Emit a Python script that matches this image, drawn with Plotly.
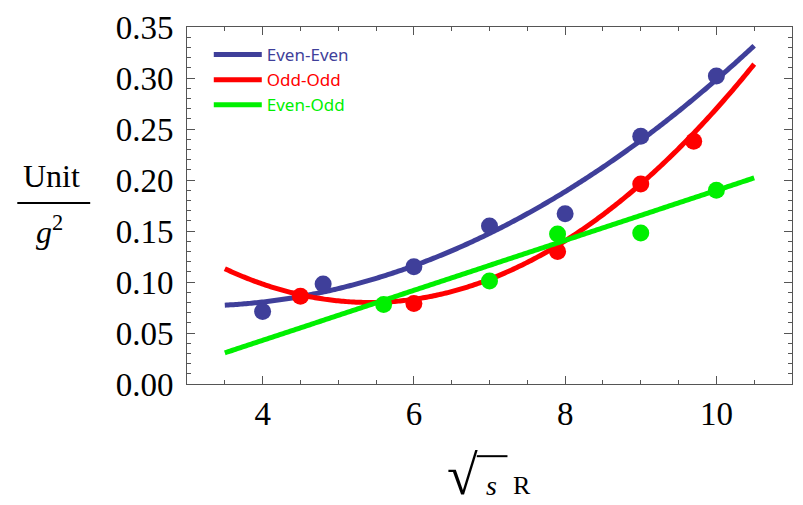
import numpy as np
import plotly.graph_objects as go

# Measured points (sqrt(s) R, Unit/g^2)
x_even_even = [4.0, 4.8, 6.0, 7.0, 8.0, 9.0, 10.0]
y_even_even = [0.071, 0.098, 0.115, 0.155, 0.167, 0.243, 0.302]

x_odd_odd = [4.5, 6.0, 7.9, 9.0, 9.7]
y_odd_odd = [0.086, 0.079, 0.130, 0.196, 0.238]

x_even_odd = [5.6, 7.0, 7.9, 9.0, 10.0]
y_even_odd = [0.078, 0.101, 0.147, 0.148, 0.190]

# Fit polynomials (highest power first) and the range they are drawn over
fit_even_even = [0.004638, -0.028598, 0.12056]
fit_odd_odd = [0.0090301, -0.097773, 0.344609]
fit_even_odd = [0.0245, -0.0552]
fit_range = [3.5, 10.5]

y_ticks = [0.00, 0.05, 0.10, 0.15, 0.20, 0.25, 0.30, 0.35]
x_ticks = [4, 6, 8, 10]

BLUE = "#3f3f9a"
RED = "#ff0000"
GREEN = "#00f000"

series = [
    ("Even-Even", BLUE, x_even_even, y_even_even, fit_even_even),
    ("Odd-Odd", RED, x_odd_odd, y_odd_odd, fit_odd_odd),
    ("Even-Odd", GREEN, x_even_odd, y_even_odd, fit_even_odd),
]

xf = np.linspace(fit_range[0], fit_range[1], 300)

fig = go.Figure()
for name, color, xs, ys, coeffs in series:
    fig.add_trace(go.Scatter(
        x=xf, y=np.polyval(coeffs, xf), mode="lines",
        line=dict(color=color, width=5, simplify=False),
        name=f"<span style='color:{color}'>{name}</span>",
        showlegend=True,
    ))
    fig.add_trace(go.Scatter(
        x=xs, y=ys, mode="markers",
        marker=dict(color=color, size=17, line=dict(width=0)),
        showlegend=False, hoverinfo="x+y",
    ))

axis_common = dict(
    showline=True, linecolor="#555555", linewidth=1, mirror="allticks",
    ticks="inside", ticklen=8, tickcolor="#555555", tickwidth=1,
    showgrid=False, zeroline=False,
    tickfont=dict(family="Liberation Serif", size=33, color="black"),
)

fig.update_xaxes(
    range=[3, 11], tickvals=x_ticks,
    minor=dict(dtick=0.5, tick0=0, ticks="inside", ticklen=4, tickcolor="#555555"),
    ticklabelstandoff=0,
    **axis_common,
)
fig.update_yaxes(
    range=[0, 0.35], tickvals=y_ticks, tickformat=".2f",
    minor=dict(dtick=0.01, tick0=0, ticks="inside", ticklen=4, tickcolor="#555555"),
    ticklabelstandoff=6,
    **axis_common,
)

serif = dict(family="Liberation Serif", color="black")
annotations = [
    # y-axis label: Unit / g^2
    dict(text="Unit", x=-0.2236, y=0.583, font=dict(size=32, **serif)),
    dict(text="<i>g</i><sup>2</sup>", x=-0.2277, y=0.43, font=dict(size=32, **serif)),
    # x-axis label: sqrt(s) R
    dict(text="\u221a", x=0.456, y=-0.255, font=dict(size=56, **serif)),
    dict(text="<i>s</i>", x=0.5025, y=-0.285, font=dict(size=28, **serif)),
    dict(text="R", x=0.553, y=-0.285, font=dict(size=26, **serif)),
]
for a in annotations:
    a.update(xref="paper", yref="paper", showarrow=False,
             xanchor="center", yanchor="middle")

shapes = [
    # fraction bar of the y label
    dict(type="line", xref="paper", yref="paper",
         x0=-0.2805, x1=-0.160, y0=0.507, y1=0.507,
         line=dict(color="black", width=2)),
    # vinculum of the square root
    dict(type="line", xref="paper", yref="paper",
         x0=0.479, x1=0.5297, y0=-0.2022, y1=-0.2022,
         line=dict(color="black", width=2)),
]

fig.update_layout(
    width=803, height=505,
    margin=dict(l=187, r=10, t=23, b=121),
    paper_bgcolor="white", plot_bgcolor="white",
    annotations=annotations, shapes=shapes,
    legend=dict(
        x=0.036, y=0.972, xanchor="left", yanchor="top",
        bgcolor="rgba(0,0,0,0)", borderwidth=0,
        itemwidth=48,
        font=dict(family="Noto Sans", size=17),
    ),
)

fig.write_html("out.html")
